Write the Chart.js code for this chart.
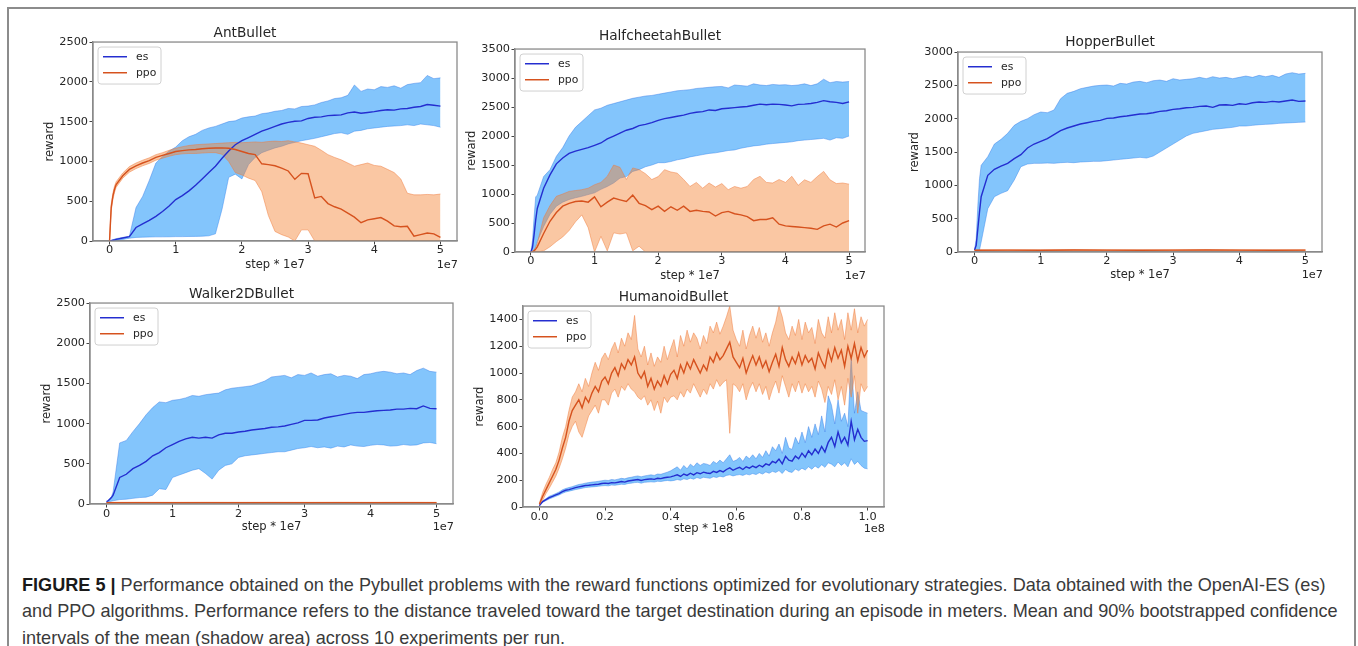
<!DOCTYPE html>
<html><head><meta charset="utf-8">
<script src="https://cdn.jsdelivr.net/npm/chart.js@4.4.1/dist/chart.umd.min.js"></script>
<style>
html,body{margin:0;padding:0;background:#fff;}
body{width:1358px;height:646px;position:relative;overflow:hidden;}
#frame{position:absolute;left:7px;top:7px;width:1349px;height:660px;border:2px solid #8c8c8c;border-bottom:none;box-sizing:border-box;}
canvas{position:absolute;}
#caption{position:absolute;left:22px;top:571.5px;font-family:'Liberation Sans',Arial,sans-serif;font-size:18.1px;line-height:26.5px;color:#3a3a3a;white-space:nowrap;}
#caption b{color:#1a1a1a;}
</style></head>
<body>
<div id="frame"></div>
<div id="caption"><b>FIGURE 5 |</b> Performance obtained on the Pybullet problems with the reward functions optimized for evolutionary strategies. Data obtained with the OpenAI-ES (es)<br>and PPO algorithms. Performance refers to the distance traveled toward the target destination during an episode in meters. Mean and 90% bootstrapped confidence<br>intervals of the mean (shadow area) across 10 experiments per run.</div>
<script>
// ---------- shared x grids ----------
const stepX = [0,0.025,0.05,0.075,0.1,
 0.2,0.3,0.4,0.5,0.6,0.7,0.8,0.9,1.0,
 1.1,1.2,1.3,1.4,1.5,1.6,1.7,1.8,1.9,2.0,
 2.1,2.2,2.3,2.4,2.5,2.6,2.7,2.8,2.9,3.0,
 3.1,3.2,3.3,3.4,3.5,3.6,3.7,3.8,3.9,4.0,
 4.1,4.2,4.3,4.4,4.5,4.6,4.7,4.8,4.9,5.0];
const sparseX = [0,0.5,1,1.5,2,2.5,3,3.5,4,4.5,5];
const humX = [0,0.01,0.02,0.03,0.04,0.05,0.06,0.07,0.08,0.09,
 0.10,0.11,0.12,0.13,0.14,0.15,0.16,0.17,0.18,0.19,
 0.20,0.21,0.22,0.23,0.24,0.25,0.26,0.27,0.28,0.29,
 0.30,0.31,0.32,0.33,0.34,0.35,0.36,0.37,0.38,0.39,
 0.40,0.41,0.42,0.43,0.44,0.45,0.46,0.47,0.48,0.49,
 0.50,0.51,0.52,0.53,0.54,0.55,0.56,0.57,0.58,0.59,
 0.60,0.61,0.62,0.63,0.64,0.65,0.66,0.67,0.68,0.69,
 0.70,0.71,0.72,0.73,0.74,0.75,0.76,0.77,0.78,0.79,
 0.80,0.81,0.82,0.83,0.84,0.85,0.86,0.87,0.88,0.89,
 0.90,0.91,0.92,0.93,0.94,0.95,0.96,0.97,0.98,0.99,
 1.00];

// ---------- tick labels ----------
const stepTicks = [0,1,2,3,4,5];
const humXTicks = [0,0.2,0.4,0.6,0.8,1.0];
const yTicks2500 = [0,500,1000,1500,2000,2500];
const yTicks3500 = [0,500,1000,1500,2000,2500,3000,3500];
const yTicks3000 = [0,500,1000,1500,2000,2500,3000];
const yTicks1400 = [0,200,400,600,800,1000,1200,1400];

// ---------- AntBullet ----------
const antEsMean = [0,5,10,15,20,
 38,55,170,215,260,310,370,440,520,
 570,630,700,780,860,940,1040,1130,1210,1260,
 1300,1340,1380,1410,1440,1470,1490,1505,1510,1540,
 1555,1560,1575,1580,1585,1610,1620,1605,1615,1625,
 1640,1650,1645,1660,1665,1680,1690,1715,1705,1695];
const antEsHigh = [0,8,16,24,30,
 45,60,420,560,760,980,1060,1130,1180,
 1260,1310,1340,1390,1420,1440,1470,1500,1510,1545,
 1560,1570,1600,1610,1630,1640,1665,1660,1690,1695,
 1710,1740,1760,1790,1800,1830,1960,1880,1910,1900,
 1940,1930,1950,1920,1965,1980,1990,2080,2040,2050];
const antEsLow = [0,2,4,6,8,
 20,35,45,48,50,52,52,53,55,
 55,57,58,60,65,90,400,800,840,780,
 960,1050,1110,1140,1170,1190,1220,1240,1260,1275,
 1290,1310,1330,1350,1360,1340,1380,1390,1410,1420,
 1430,1440,1445,1450,1460,1450,1470,1460,1450,1430];
const antPpoMean = [0,420,560,650,710,
 820,900,945,980,1010,1050,1075,1100,1125,
 1135,1145,1150,1160,1165,1168,1170,1165,1150,1125,
 1100,1085,970,960,945,915,880,775,850,845,
 540,560,470,430,400,350,300,230,265,280,
 295,250,190,180,185,60,80,100,90,45];
const antPpoHigh = [0,460,600,690,745,
 855,935,980,1015,1045,1085,1110,1140,1165,
 1185,1200,1210,1215,1220,1225,1230,1235,1240,1235,
 1240,1245,1240,1250,1255,1250,1260,1245,1230,1210,
 1190,1140,1085,1050,1020,980,940,960,980,950,
 940,900,860,780,600,580,580,585,580,590];
const antPpoLow = [0,380,520,610,675,
 790,865,910,945,975,1015,1040,1065,1085,
 1095,1100,1100,1105,1110,1110,1090,1000,860,830,
 790,760,620,320,120,80,50,0,140,140,
 0,0,0,0,0,0,0,0,0,0,
 0,0,0,0,0,0,0,0,0,0];

// ---------- HalfcheetahBullet ----------
const hcEsMean = [0,80,300,550,750,
 1100,1330,1520,1620,1700,1740,1770,1800,1840,
 1880,1950,2000,2050,2100,2130,2180,2200,2230,2270,
 2300,2320,2340,2360,2390,2410,2420,2450,2440,2470,
 2480,2490,2500,2510,2530,2550,2540,2550,2545,2535,
 2520,2545,2550,2560,2580,2610,2590,2580,2560,2590];
const hcEsHigh = [0,200,600,950,980,
 1300,1420,1650,1800,2000,2150,2250,2350,2450,
 2480,2530,2560,2590,2620,2650,2670,2690,2700,2720,
 2740,2760,2780,2790,2800,2820,2830,2840,2850,2855,
 2830,2880,2870,2860,2900,2880,2870,2890,2880,2885,
 2870,2880,2900,2870,2900,2980,2920,2940,2930,2940];
const hcEsLow = [0,0,20,80,180,
 440,650,790,860,905,935,960,990,1020,
 1080,1130,1190,1275,1300,1390,1420,1470,1500,1540,
 1540,1560,1590,1610,1640,1660,1680,1700,1710,1730,
 1750,1760,1790,1810,1830,1840,1860,1870,1880,1890,
 1900,1920,1930,1940,1950,1960,1930,1970,1960,2000];
const hcPpoMean = [0,5,20,50,90,
 320,530,680,790,840,870,880,860,950,
 780,860,930,900,870,980,840,800,730,790,
 700,780,720,790,700,720,700,690,620,680,
 700,660,640,610,540,560,560,590,480,450,
 440,430,420,410,390,450,480,430,500,540];
const hcPpoHigh = [0,10,40,80,150,
 590,800,960,1000,1045,1060,1075,1100,1160,
 1200,1305,1500,1460,1250,1450,1420,1350,1250,1300,
 1420,1380,1360,1250,1130,1200,1100,1190,1120,1180,
 1075,1130,1100,1130,1250,1305,1200,1190,1250,1200,
 1305,1150,1245,1200,1300,1390,1245,1180,1190,1170];
const hcPpoLow = [0,0,0,0,0,
 20,90,180,260,370,520,640,420,0,
 270,20,330,310,330,20,100,0,0,0,
 0,0,0,0,0,0,0,0,0,0,
 0,0,0,0,0,0,0,0,0,0,
 0,0,0,0,0,0,0,0,0,0];

// ---------- HopperBullet ----------
const hopEsMean = [30,100,350,600,830,
 1150,1240,1290,1330,1400,1460,1560,1620,1660,
 1700,1760,1820,1860,1890,1920,1940,1960,1975,2005,
 2010,2030,2040,2055,2070,2075,2090,2110,2120,2140,
 2150,2165,2170,2185,2190,2170,2205,2210,2200,2225,
 2215,2240,2250,2245,2260,2250,2265,2280,2260,2265];
const hopEsHigh = [30,200,700,1100,1300,
 1430,1620,1690,1780,1900,1960,2000,2060,2100,
 2090,2130,2300,2380,2410,2450,2470,2490,2500,2505,
 2490,2530,2520,2550,2560,2540,2570,2580,2560,2600,
 2580,2590,2600,2620,2600,2630,2610,2620,2600,2620,
 2640,2620,2650,2630,2650,2620,2670,2690,2670,2680];
const hopEsLow = [0,10,20,30,150,
 650,830,880,920,1080,1280,1320,1330,1330,
 1335,1330,1340,1345,1340,1350,1355,1360,1360,1370,
 1380,1390,1400,1410,1420,1410,1440,1500,1560,1620,
 1680,1740,1780,1800,1820,1840,1850,1860,1870,1890,
 1890,1900,1910,1915,1920,1930,1935,1940,1945,1950];
const hopPpoMean = [27,28,27,29,28,27,28,29,28,27,28];
const hopPpoHigh = [31,32,31,33,32,31,32,33,32,31,32];
const hopPpoLow  = [23,24,23,25,24,23,24,25,24,23,24];

// ---------- Walker2DBullet ----------
const walkEsMean = [30,40,60,80,110,
 330,370,440,480,530,600,640,700,740,
 780,810,830,820,830,820,860,880,880,895,
 905,920,930,940,955,960,970,990,1010,1040,
 1040,1045,1070,1085,1100,1115,1130,1140,1140,1150,
 1160,1165,1170,1180,1180,1190,1185,1220,1190,1185];
const walkEsHigh = [30,45,70,90,150,
 760,790,900,1000,1110,1200,1270,1260,1290,
 1300,1320,1350,1340,1360,1370,1380,1420,1440,1450,
 1460,1470,1500,1530,1580,1590,1600,1570,1610,1600,
 1630,1590,1610,1620,1580,1600,1590,1560,1610,1620,
 1640,1650,1640,1620,1630,1610,1660,1690,1650,1640];
const walkEsLow = [20,25,30,35,40,
 55,60,70,80,85,110,190,180,330,
 360,390,420,440,380,310,420,480,500,580,
 600,610,620,630,640,650,650,670,690,700,
 715,700,710,695,720,710,735,720,715,730,
 740,735,720,725,740,730,735,760,765,750];
const walkPpoMean = [16,17,16,17,16,17,16,17,16,17,16];
const walkPpoHigh = [21,22,21,22,21,22,21,22,21,22,21];
const walkPpoLow  = [11,12,11,12,11,12,11,12,11,12,11];

// ---------- HumanoidBullet ----------
const humEsMean = [10,40,55,70,80,90,100,115,125,130,
 137,145,150,155,160,162,165,168,170,175,
 178,176,182,180,185,190,186,194,198,202,
 205,198,204,207,210,206,214,212,218,222,
 225,232,240,228,246,236,252,240,256,248,
 260,254,250,266,258,272,262,280,292,274,
 286,296,280,300,290,306,294,312,300,322,
 312,340,330,358,322,378,350,342,380,360,
 402,372,420,390,432,400,452,410,482,520,
 452,560,480,520,462,640,502,580,520,490,
 495];
const humEsHigh = [12,45,62,80,90,100,112,128,138,145,
 152,160,168,172,178,182,186,188,192,196,
 200,198,205,202,208,214,210,218,222,228,
 232,225,232,236,240,236,246,244,252,260,
 270,285,300,275,310,285,320,300,330,310,
 325,320,310,340,325,350,330,360,390,340,
 350,370,340,380,360,390,360,400,370,420,
 380,450,420,470,400,520,440,430,520,470,
 560,480,600,520,620,540,680,560,830,760,
 620,800,640,700,600,1120,700,860,720,710,
 700];
const humEsLow = [8,35,48,60,70,80,90,102,112,118,
 124,130,135,140,145,148,150,152,155,158,
 160,158,164,162,166,170,168,175,178,182,
 184,178,184,186,188,186,192,190,195,198,
 195,198,205,200,210,205,215,208,220,212,
 222,218,214,226,220,230,224,236,240,232,
 238,242,236,246,240,250,242,256,246,262,
 252,266,258,272,250,280,264,258,284,270,
 290,276,300,282,306,290,316,296,330,320,
 300,336,310,330,300,360,318,340,310,290,
 285];
const humPpoMean = [20,80,130,180,230,280,350,440,520,640,
 720,760,800,740,820,780,850,900,860,940,
 970,920,1000,1040,980,1070,1030,1100,1060,1120,
 1000,960,1010,900,960,880,940,900,980,920,
 990,1020,960,1060,1000,1080,1030,1100,1050,1000,
 1060,1020,1120,1080,1150,1100,1130,1180,1230,1120,
 1080,1040,1110,1000,1070,1130,1060,1120,1040,1090,
 1010,1080,1140,1050,1190,1100,1050,1120,1070,1150,
 1060,1130,1080,1110,1030,1150,1090,1040,1170,1090,
 1190,1110,1170,1050,1200,1110,1220,1090,1190,1120,
 1170];
const humPpoHigh = [30,110,170,220,280,330,410,520,600,720,
 820,860,920,860,960,900,1000,1080,1020,1110,
 1150,1100,1180,1230,1150,1260,1200,1300,1250,1430,
 1180,1120,1200,1060,1150,1050,1120,1080,1200,1100,
 1180,1250,1120,1280,1200,1320,1230,1300,1260,1180,
 1280,1220,1350,1300,1380,1290,1350,1420,1500,1320,
 1250,1200,1320,1180,1280,1350,1260,1340,1230,1300,
 1200,1300,1380,1500,1420,1300,1250,1350,1280,1400,
 1250,1380,1300,1340,1220,1400,1300,1260,1420,1300,
 1450,1320,1400,1250,1450,1320,1480,1300,1420,1350,
 1400];
const humPpoLow = [10,50,100,140,185,230,290,360,440,540,
 600,640,560,520,600,680,720,760,700,800,
 800,760,850,880,820,900,870,920,880,860,
 820,800,830,760,800,720,790,700,820,780,
 820,830,800,860,820,880,850,920,870,820,
 880,840,920,880,950,900,930,950,550,920,
 900,860,920,800,880,930,860,920,840,900,
 800,880,940,850,980,900,820,920,860,940,
 850,920,860,900,820,940,880,780,900,840,
 950,800,900,760,960,820,980,700,920,860,
 900];

// ---------- styling ----------
const FONT = "'DejaVu Sans', sans-serif";
const TXT = '#262626';
const FRAME = '#8a8a8a';
const ES_LINE = 'rgb(36,46,208)';
const PPO_LINE = 'rgb(214,82,30)';
const ES_FILL = 'rgba(30,150,250,0.55)';
const PPO_FILL = 'rgba(245,130,50,0.45)';
const ES_EDGE = 'rgba(50,120,230,0.55)';
const PPO_EDGE = 'rgba(238,120,60,0.6)';

function pts(xs, ys){ return xs.map((x,i)=>({x:x, y:ys[i]})); }

const overlay = {
  id:'overlay',
  afterDraw(chart){
    const o = chart.options.plugins.overlay;
    const {ctx, chartArea:a} = chart;
    ctx.save();
    ctx.strokeStyle = FRAME; ctx.lineWidth = 1.3;
    ctx.strokeRect(a.left, a.top, a.right-a.left, a.bottom-a.top);
    const bx = a.left+5, by = a.top+5, bw = 63, bh = 37, r = 3;
    ctx.beginPath();
    ctx.moveTo(bx+r,by); ctx.lineTo(bx+bw-r,by); ctx.arcTo(bx+bw,by,bx+bw,by+r,r);
    ctx.lineTo(bx+bw,by+bh-r); ctx.arcTo(bx+bw,by+bh,bx+bw-r,by+bh,r);
    ctx.lineTo(bx+r,by+bh); ctx.arcTo(bx,by+bh,bx,by+bh-r,r);
    ctx.lineTo(bx,by+r); ctx.arcTo(bx,by,bx+r,by,r); ctx.closePath();
    ctx.fillStyle = 'rgba(255,255,255,0.85)'; ctx.fill();
    ctx.strokeStyle = '#d0d0d0'; ctx.lineWidth = 1; ctx.stroke();
    const items = [chart.data.datasets[0], chart.data.datasets[1]];
    ctx.font = '10.8px ' + FONT; ctx.textBaseline = 'middle'; ctx.textAlign = 'left';
    items.forEach((d,i)=>{
      const y = a.top + 14.7 + i*16;
      ctx.strokeStyle = d.borderColor; ctx.lineWidth = 1.5;
      ctx.beginPath(); ctx.moveTo(a.left+10, y); ctx.lineTo(a.left+34, y); ctx.stroke();
      ctx.fillStyle = TXT; ctx.fillText(d.label, a.left+43, y);
    });
    ctx.font = '11.3px ' + FONT; ctx.textAlign = 'right'; ctx.fillStyle = TXT;
    ctx.fillText(o.offsetText, a.right+1, a.bottom + o.offY);
    ctx.restore();
  }
};

function makeChart(c){
  const cv = document.createElement('canvas');
  const w = c.R - c.L + 120, h = c.B - c.T + 70;
  cv.width = w; cv.height = h;
  cv.style.left = (c.L - 60) + 'px'; cv.style.top = (c.T - 30) + 'px';
  cv.style.width = w + 'px'; cv.style.height = h + 'px';
  document.body.appendChild(cv);
  const tickFont = {family:FONT, size:11.3};
  const lineDs = (label, xs, ys, color, order) => ({label, data:pts(xs,ys), borderColor:color, borderWidth:1.4, pointRadius:0, fill:false, tension:0, order});
  const bandDs = (label, xs, ys, edge, fillColor, order) => ({label, data:pts(xs,ys), borderColor:edge, borderWidth:0.8, pointRadius:0, tension:0, backgroundColor:fillColor, fill: fillColor ? '+1' : false, order});
  new Chart(cv, {
    type:'line',
    data:{datasets:[
      lineDs('es', c.esX, c.es[0], ES_LINE, 1),
      lineDs('ppo', c.ppoX, c.ppo[0], PPO_LINE, 0),
      bandDs('es high', c.esX, c.es[2], ES_EDGE, ES_FILL, 3),
      bandDs('es low', c.esX, c.es[1], ES_EDGE, null, 3),
      bandDs('ppo high', c.ppoX, c.ppo[2], PPO_EDGE, PPO_FILL, 2),
      bandDs('ppo low', c.ppoX, c.ppo[1], PPO_EDGE, null, 2)
    ]},
    options:{
      responsive:false, animation:false, devicePixelRatio:1,
      layout:{padding:{left:0,right:60,top:0,bottom:0}},
      plugins:{
        legend:{display:false}, tooltip:{enabled:false},
        title:{display:true, text:c.title, color:TXT, font:{family:FONT,size:13.7,weight:'normal',lineHeight:1.2}, padding:{top:c.tp, bottom:c.tb}},
        overlay:{offsetText:c.offText, offY:c.xto}
      },
      scales:{
        x:{type:'linear', min:c.xMin, max:c.xMax,
           afterBuildTicks:(ax)=>{ ax.ticks = c.xTicks.map(v=>({value:v})); },
           afterFit:(s)=>{ s.height = 40; },
           grid:{drawOnChartArea:false, drawTicks:true, tickLength:3.5, tickColor:'#444', tickWidth:1},
           border:{display:true, color:FRAME, width:1.3},
           ticks:{padding:c.xtp + 1.3, color:TXT, font:tickFont, autoSkip:false, maxRotation:0, callback:c.xFmt},
           title:{display:true, text:c.xLabel, color:TXT, font:{family:FONT,size:11.5,lineHeight:1.2}, padding:{top:0, bottom:40 - c.xto - 6.9}}
        },
        y:{type:'linear', min:c.yMin, max:c.yMax,
           afterBuildTicks:(ax)=>{ ax.ticks = c.yTicks.map(v=>({value:v})); },
           afterFit:(s)=>{ s.width = 60; },
           grid:{drawOnChartArea:false, drawTicks:true, tickLength:3.5, tickColor:'#444', tickWidth:1},
           border:{display:true, color:FRAME, width:1.3},
           ticks:{padding:1.5, color:TXT, font:tickFont, autoSkip:false, callback:(v)=>String(v)},
           title:{display:true, text:'reward', color:TXT, font:{family:FONT,size:11.5,lineHeight:1.2}, padding:{top:60-43-6.9, bottom:0}}
        }
      }
    },
    plugins:[overlay]
  });
}

const intFmt = (v)=>String(v);
const oneDec = (v)=>v.toFixed(1);

makeChart({title:'AntBullet', L:93,R:457,T:42,B:241, tp:13.1, tb:0.5, xtp:-2.1, xto:24,
  xMin:-0.25,xMax:5.25,yMin:0,yMax:2500, xTicks:stepTicks, yTicks:yTicks2500, xFmt:intFmt,
  xLabel:'step * 1e7', offText:'1e7',
  esX:stepX, es:[antEsMean, antEsLow, antEsHigh], ppoX:stepX, ppo:[antPpoMean, antPpoLow, antPpoHigh]});
makeChart({title:'HalfcheetahBullet', L:515,R:865,T:49,B:252, tp:9.2, tb:4.4, xtp:-2.5, xto:24.5,
  xMin:-0.25,xMax:5.25,yMin:0,yMax:3500, xTicks:stepTicks, yTicks:yTicks3500, xFmt:intFmt,
  xLabel:'step * 1e7', offText:'1e7',
  esX:stepX, es:[hcEsMean, hcEsLow, hcEsHigh], ppoX:stepX, ppo:[hcPpoMean, hcPpoLow, hcPpoHigh]});
makeChart({title:'HopperBullet', L:958,R:1322,T:52,B:252, tp:12.5, tb:1.1, xtp:-2.1, xto:23,
  xMin:-0.25,xMax:5.25,yMin:0,yMax:3000, xTicks:stepTicks, yTicks:yTicks3000, xFmt:intFmt,
  xLabel:'step * 1e7', offText:'1e7',
  esX:stepX, es:[hopEsMean, hopEsLow, hopEsHigh], ppoX:sparseX, ppo:[hopPpoMean, hopPpoLow, hopPpoHigh]});
makeChart({title:'Walker2DBullet', L:90,R:453,T:303,B:504, tp:13.5, tb:0.1, xtp:-1.5, xto:22.7,
  xMin:-0.25,xMax:5.25,yMin:0,yMax:2500, xTicks:stepTicks, yTicks:yTicks2500, xFmt:intFmt,
  xLabel:'step * 1e7', offText:'1e7',
  esX:stepX, es:[walkEsMean, walkEsLow, walkEsHigh], ppoX:sparseX, ppo:[walkPpoMean, walkPpoLow, walkPpoHigh]});
makeChart({title:'HumanoidBullet', L:523,R:884,T:306,B:507, tp:12.8, tb:0.8, xtp:-1.5, xto:21.7,
  xMin:-0.05,xMax:1.05,yMin:0,yMax:1500, xTicks:humXTicks, yTicks:yTicks1400, xFmt:oneDec,
  xLabel:'step * 1e8', offText:'1e8',
  esX:humX, es:[humEsMean, humEsLow, humEsHigh], ppoX:humX, ppo:[humPpoMean, humPpoLow, humPpoHigh]});
</script>
</body></html>
